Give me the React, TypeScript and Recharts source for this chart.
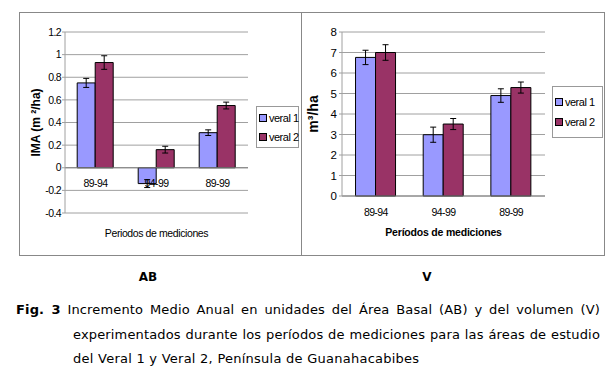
import React from 'react';
import {
  Bar,
  BarChart,
  CartesianGrid,
  ErrorBar,
  Label,
  Legend,
  ReferenceLine,
  XAxis,
  YAxis,
} from 'recharts';

const periods = ['89-94', '94-99', '89-99'];
const seriesNames = ['veral 1', 'veral 2'];

// AB: incremento en área basal (m2/ha)
const abVeral1 = [0.75, -0.14, 0.31];
const abVeral1Err = [0.04, 0.035, 0.025];
const abVeral2 = [0.93, 0.16, 0.55];
const abVeral2Err = [0.06, 0.03, 0.03];
const abTicks = [-0.4, -0.2, 0, 0.2, 0.4, 0.6, 0.8, 1, 1.2];

// V: incremento en volumen (m3/ha)
const vVeral1 = [6.76, 2.99, 4.9];
const vVeral1Err = [0.35, 0.37, 0.33];
const vVeral2 = [7.0, 3.51, 5.29];
const vVeral2Err = [0.38, 0.27, 0.27];
const vTicks = [0, 1, 2, 3, 4, 5, 6, 7, 8];

const abData = periods.map((p, i) => ({
  period: p,
  v1: abVeral1[i],
  e1: abVeral1Err[i],
  v2: abVeral2[i],
  e2: abVeral2Err[i],
}));
const vData = periods.map((p, i) => ({
  period: p,
  v1: vVeral1[i],
  e1: vVeral1Err[i],
  v2: vVeral2[i],
  e2: vVeral2Err[i],
}));

const COLOR_1 = '#9999ff';
const COLOR_2 = '#993366';
const GRID = '#a0a0a0';
const FONT = "'Liberation Sans', Arial, sans-serif";
const CAPTION_FONT = "'DejaVu Sans', Verdana, sans-serif";
const tickStyle = { fontFamily: FONT, fontSize: 10.5, letterSpacing: -0.6, fill: '#000' };

const AB_H = 243;
const AB_MARGIN = { top: 20, right: 53, bottom: 22, left: 6 };
const AB_XAXIS_H = 20;
const AB_PLOT_H = AB_H - AB_MARGIN.top - AB_MARGIN.bottom - AB_XAXIS_H;

// Excel draws the AB category labels right under the zero line
function ZeroTick({ x, y, payload }: any) {
  const lo = abTicks[0];
  const hi = abTicks[abTicks.length - 1];
  const zeroY = y - (AB_PLOT_H * (0 - lo)) / (hi - lo);
  return (
    <text x={x} y={zeroY + 19} textAnchor="middle" {...tickStyle}>
      {payload.value}
    </text>
  );
}

function VTitle({ viewBox, text, dx, size }: any) {
  const cx = viewBox.x + dx;
  const cy = viewBox.y + viewBox.height / 2;
  return (
    <text
      x={cx}
      y={cy}
      transform={`rotate(-90 ${cx} ${cy})`}
      textAnchor="middle"
      dominantBaseline="central"
      fontFamily={FONT}
      fontWeight="bold"
      fontSize={size}
      fill="#000"
    >
      {text}
    </text>
  );
}

function HTitle({ viewBox, text, dy, bold }: any) {
  return (
    <text
      x={viewBox.x + viewBox.width / 2}
      y={viewBox.y + dy}
      textAnchor="middle"
      dominantBaseline="central"
      fontFamily={FONT}
      fontWeight={bold ? 'bold' : 'normal'}
      fontSize={10.5}
      letterSpacing={bold ? -0.2 : -0.4}
      fill="#000"
    >
      {text}
    </text>
  );
}

function BoxLegend({ payload, width, pad, gap }: any) {
  return (
    <div
      style={{
        width,
        boxSizing: 'border-box',
        border: '1px solid #999',
        background: '#fff',
        padding: `${pad}px 0 ${pad}px 2px`,
        fontFamily: FONT,
        fontSize: 11,
        letterSpacing: -0.5,
        color: '#000',
        whiteSpace: 'nowrap',
      }}
    >
      {(payload ?? []).map((p: any) => (
        <div key={p.value} style={{ display: 'flex', alignItems: 'center', height: gap }}>
          <span
            style={{
              width: 6,
              height: 6,
              flex: 'none',
              background: p.color,
              border: '1px solid #000',
              marginRight: 2,
            }}
          />
          {p.value}
        </div>
      ))}
    </div>
  );
}

function AbChart() {
  return (
    <BarChart width={282} height={AB_H} data={abData} margin={AB_MARGIN} barCategoryGap="20%" barGap={0}>
      <CartesianGrid vertical={false} stroke={GRID} />
      <XAxis
        dataKey="period"
        height={AB_XAXIS_H}
        axisLine={false}
        tickLine={false}
        tickSize={0}
        tickMargin={0}
        tick={<ZeroTick />}
      >
        <Label content={<HTitle text="Periodos de mediciones" dy={20} />} />
      </XAxis>
      <YAxis
        width={40}
        domain={[abTicks[0], abTicks[abTicks.length - 1]]}
        ticks={abTicks}
        interval={0}
        tickSize={3}
        tickMargin={1}
        axisLine={{ stroke: GRID }}
        tickLine={{ stroke: GRID }}
        tick={tickStyle}
      >
        <Label content={<VTitle text="IMA (m ²/ha)" dx={11} size={12} />} />
      </YAxis>
      <YAxis yAxisId="frame" orientation="right" width={0} tick={false} tickLine={false} axisLine={{ stroke: GRID }} />
      <ReferenceLine y={0} stroke="#808080" />
      <Legend
        layout="vertical"
        align="center"
        verticalAlign="middle"
        wrapperStyle={{ left: 237, top: 94 }}
        content={<BoxLegend width={43} pad={1} gap={19} />}
      />
      <Bar dataKey="v1" name={seriesNames[0]} fill={COLOR_1} stroke="#000" strokeWidth={1} isAnimationActive={false}>
        <ErrorBar dataKey="e1" width={3} stroke="#000" strokeWidth={1} />
      </Bar>
      <Bar dataKey="v2" name={seriesNames[1]} fill={COLOR_2} stroke="#000" strokeWidth={1} isAnimationActive={false}>
        <ErrorBar dataKey="e2" width={3} stroke="#000" strokeWidth={1} />
      </Bar>
    </BarChart>
  );
}

function VChart() {
  return (
    <BarChart
      width={303}
      height={243}
      data={vData}
      margin={{ top: 20, right: 59, bottom: 29, left: 2 }}
      barCategoryGap="20%"
      barGap={0}
    >
      <CartesianGrid vertical={false} stroke={GRID} />
      <XAxis
        dataKey="period"
        height={30}
        axisLine={{ stroke: '#808080' }}
        tickLine={false}
        tickMargin={7}
        tick={tickStyle}
      >
        <Label content={<HTitle text="Períodos de mediciones" dy={36} bold />} />
      </XAxis>
      <YAxis
        width={39}
        domain={[0, 8]}
        ticks={vTicks}
        interval={0}
        tickSize={3}
        tickMargin={2}
        axisLine={{ stroke: GRID }}
        tickLine={{ stroke: GRID }}
        tick={{ ...tickStyle, fontSize: 11.5, letterSpacing: 0 }}
      >
        <Label content={<VTitle text="m³/ha" dx={10} size={14} />} />
      </YAxis>
      <YAxis yAxisId="frame" orientation="right" width={0} tick={false} tickLine={false} axisLine={{ stroke: GRID }} />
      <Legend
        layout="vertical"
        align="center"
        verticalAlign="middle"
        wrapperStyle={{ left: 251, top: 74 }}
        content={<BoxLegend width={51} pad={5} gap={20} />}
      />
      <Bar dataKey="v1" name={seriesNames[0]} fill={COLOR_1} stroke="#000" strokeWidth={1} isAnimationActive={false}>
        <ErrorBar dataKey="e1" width={3} stroke="#000" strokeWidth={1} />
      </Bar>
      <Bar dataKey="v2" name={seriesNames[1]} fill={COLOR_2} stroke="#000" strokeWidth={1} isAnimationActive={false}>
        <ErrorBar dataKey="e2" width={3} stroke="#000" strokeWidth={1} />
      </Bar>
    </BarChart>
  );
}

const captionLine: React.CSSProperties = {
  position: 'absolute',
  fontFamily: CAPTION_FONT,
  fontSize: 13,
  letterSpacing: 0.15,
  lineHeight: '16px',
  color: '#000',
  whiteSpace: 'nowrap',
};

export default function App() {
  return (
    <div style={{ position: 'absolute', left: 0, top: 0, width: 608, height: 371, background: '#fff' }}>
      <div
        style={{
          position: 'absolute',
          left: 19,
          top: 12,
          width: 586,
          height: 244,
          boxSizing: 'border-box',
          border: '1px solid #888',
        }}
      />
      <div style={{ position: 'absolute', left: 301, top: 12, width: 1, height: 244, background: '#888' }} />
      <div style={{ position: 'absolute', left: 19, top: 12 }}>
        <AbChart />
      </div>
      <div style={{ position: 'absolute', left: 301, top: 12 }}>
        <VChart />
      </div>

      <div style={{ ...captionLine, fontSize: 12, letterSpacing: 0, left: 128, top: 269, width: 40, textAlign: 'center', fontWeight: 'bold' }}>AB</div>
      <div style={{ ...captionLine, fontSize: 12, letterSpacing: 0, left: 407, top: 269, width: 40, textAlign: 'center', fontWeight: 'bold' }}>V</div>

      <div style={{ ...captionLine, left: 16, top: 302, width: 584, textAlign: 'justify', textAlignLast: 'justify', whiteSpace: 'normal' }}>
        <b>Fig. 3</b> Incremento Medio Anual en unidades del Área Basal (AB) y del volumen (V)
      </div>
      <div style={{ ...captionLine, left: 73, top: 327, width: 527, textAlign: 'justify', textAlignLast: 'justify', whiteSpace: 'normal' }}>
        experimentados durante los períodos de mediciones para las áreas de estudio
      </div>
      <div style={{ ...captionLine, left: 73, top: 351, letterSpacing: 0.25 }}>
        del Veral 1 y Veral 2, Península de Guanahacabibes
      </div>
    </div>
  );
}
